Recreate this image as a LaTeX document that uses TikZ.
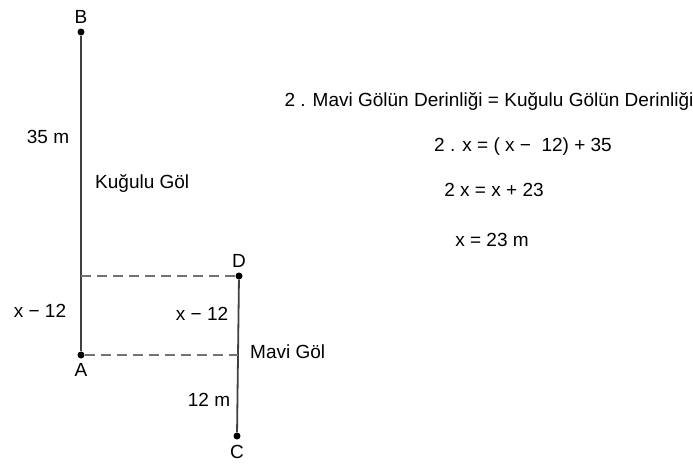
\documentclass[tikz,border=0pt]{standalone}
\usepackage{fontspec}
\setmainfont{Liberation Sans}
\usetikzlibrary{positioning}
\tikzset{
  dotnode/.style = {circle, fill=black, inner sep=0pt, minimum size=7pt},% uc noktasi
  ptlabel/.style = {font=\fontsize{19}{22}\selectfont, inner sep=1pt},% nokta etiketi
  txt/.style = {font=\fontsize{19}{22}\selectfont, inner sep=0pt},% metin
  depth/.style = {draw=black!75, line width=1.8pt},% derinlik cizgisi
  guide/.style = {draw=black!55, dash pattern=on 10pt off 6pt, line width=1.2pt}% kesikli
}
\begin{document}
\begin{tikzpicture}[x=1pt, y=-1pt]
  \useasboundingbox (0,0) rectangle (693,464);
  % noktalar
  \node [dotnode] (B) at (81,32) {};
  \node [dotnode] (A) at (81,355) {};
  \node [dotnode] (D) at (239,276) {};
  \node [dotnode] (C) at (237,436) {};
  \coordinate (Dleft) at (81,276);
  \coordinate (Aright) at (238,355);
  \node [ptlabel, above=4pt of B] (lB) {B};
  \node [ptlabel, below=4pt of A] (lA) {A};
  \node [ptlabel, above=4pt of D] (lD) {D};
  \node [ptlabel, below=4pt of C] (lC) {C};
  % gol derinlikleri
  \draw [depth] (B) -- (A);
  \draw [depth] (D) -- (C);
  \draw [guide] (Dleft) -- (D);
  \draw [guide] (A) -- (Aright);
  % etiketler
  \node [txt] (l35) at (48,137) {35 m};
  \node [txt, anchor=west] (kugulu) at (95,183) {Kuğulu Göl};
  \node [txt] (lxa) at (40,311) {x − 12};
  \node [txt] (lxd) at (202,314) {x − 12};
  \node [txt, anchor=west] (mavi) at (250,352) {Mavi Göl};
  \node [txt] (l12) at (209,400) {12 m};
  % cozum
  \node [txt] (eq1) at (489,101) {2 . Mavi Gölün Derinliği = Kuğulu Gölün Derinliği};
  \node [txt] (eq2) at (523,147) {2 . x = ( x − \ 12) + 35};
  \node [txt] (eq3) at (494,190) {2 x = x + 23};
  \node [txt] (eq4) at (492,240) {x = 23 m};
\end{tikzpicture}
\end{document}
